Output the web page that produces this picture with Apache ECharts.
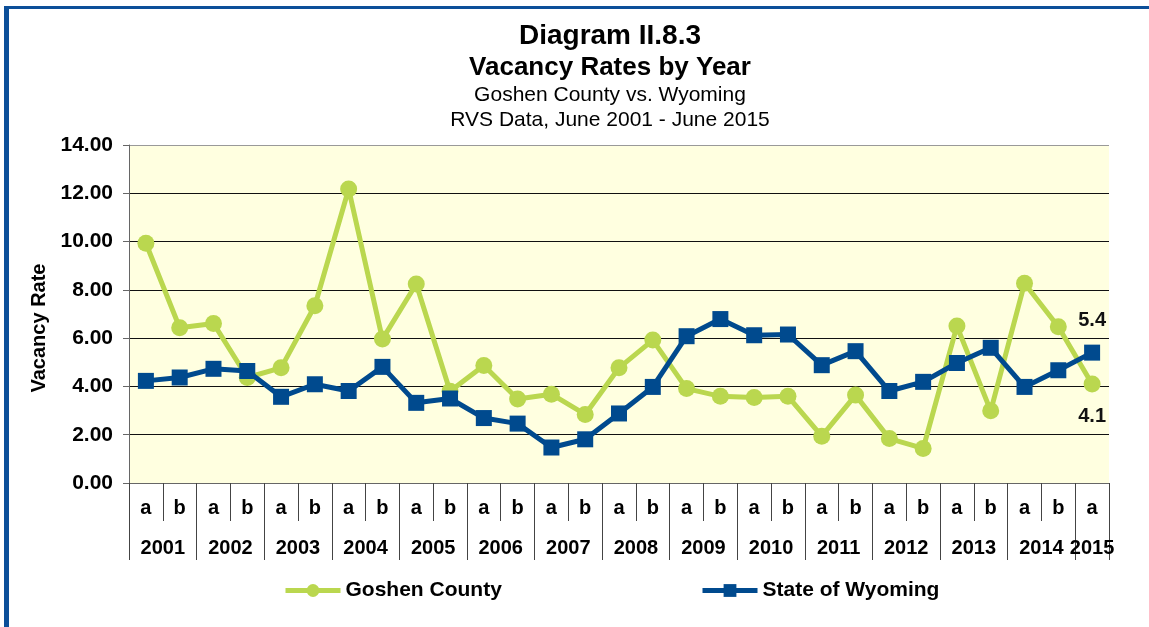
<!DOCTYPE html>
<html>
<head>
<meta charset="utf-8">
<script src="https://cdn.jsdelivr.net/npm/echarts@6/dist/echarts.min.js"></script>
<style>
  html, body { margin: 0; padding: 0; background: #fff; }
  #wrap { position: relative; width: 1149px; height: 627px; overflow: hidden; }
  #chart { position: absolute; left: 0; top: 0; width: 1149px; height: 627px; }
  /* blue frame along the left and top edges of the page */
  #frame { position: absolute; left: 4px; top: 6px; right: -10px; bottom: -10px;
           border-left: 5px solid #0C4F99; border-top: 3px solid #0C4F99; pointer-events: none; }
</style>
</head>
<body>
<div id="wrap">
  <div id="chart"></div>
  <div id="frame"></div>
</div>
<script>
// Half-year survey periods, June 2001 - June 2015
const periods = ['a','b','a','b','a','b','a','b','a','b','a','b','a','b',
                 'a','b','a','b','a','b','a','b','a','b','a','b','a','b','a'];
const years = ['2001','2002','2003','2004','2005','2006','2007','2008',
               '2009','2010','2011','2012','2013','2014','2015'];

// Vacancy rates (%)
const goshenCounty = [9.93, 6.43, 6.61, 4.37, 4.77, 7.34, 12.18, 5.96, 8.24, 3.80,
                      4.87, 3.48, 3.68, 2.84, 4.77, 5.92, 3.91, 3.59, 3.54, 3.59,
                      1.94, 3.64, 1.84, 1.43, 6.50, 2.99, 8.27, 6.47, 4.1];
const stateOfWyoming = [4.23, 4.37, 4.73, 4.64, 3.57, 4.09, 3.81, 4.81, 3.32, 3.50,
                        2.69, 2.46, 1.47, 1.81, 2.88, 3.98, 6.08, 6.79, 6.12, 6.15,
                        4.88, 5.46, 3.81, 4.19, 4.97, 5.60, 3.98, 4.67, 5.4];

const yTicks = [0, 2, 4, 6, 8, 10, 12, 14];

const FONT = '"Liberation Sans", Arial, Helvetica, sans-serif';
const GREEN = '#BAD74F';
const NAVY = '#004A8E';

// Year band: each year spans two periods, the last one only a single period
const yearBounds = years.map((y, i) => i * 2).concat([periods.length]);
const yearCenters = years.map((y, i) => Math.min(i * 2 + 1, (i * 2 + periods.length) / 2));

// Put a value label on the final point only
function withEndLabel(values, position) {
  return values.map((v, i) => i === values.length - 1
    ? { value: v, label: { show: true, position: position, distance: 14,
        formatter: p => p.value.toFixed(1),
        fontFamily: FONT, fontWeight: 'bold', fontSize: 20, color: '#111' } }
    : v);
}

const chart = echarts.init(document.getElementById('chart'), null, { renderer: 'canvas' });

const titleLines = [
  { text: 'Diagram II.8.3', top: 22, size: 28, weight: 'bold' },
  { text: 'Vacancy Rates by Year', top: 55, size: 26, weight: 'bold' },
  { text: 'Goshen County vs. Wyoming', top: 85, size: 21, weight: 'normal' },
  { text: 'RVS Data, June 2001 - June 2015', top: 110, size: 21, weight: 'normal' }
];

const legendBase = {
  top: 580, padding: 0, itemWidth: 55, itemHeight: 16, itemGap: 5,
  lineStyle: { width: 5 },
  textStyle: { fontFamily: FONT, fontSize: 21, fontWeight: 'bold', color: '#000' }
};

chart.setOption({
  animation: false,
  backgroundColor: '#ffffff',
  title: titleLines.map(t => ({
    text: t.text, left: 610, top: t.top, textAlign: 'center', padding: 0,
    textStyle: { fontFamily: FONT, fontSize: t.size, fontWeight: t.weight, color: '#000' }
  })),
  legend: [
    Object.assign({ data: ['Goshen County'], left: 283 }, legendBase),
    Object.assign({ data: ['State of Wyoming'], left: 700 }, legendBase)
  ],
  grid: {
    left: 129, right: 40, top: 145, bottom: 144,
    show: true, backgroundColor: '#FFFFE0', borderWidth: 0
  },
  xAxis: [
    {
      type: 'category', data: periods, position: 'bottom', boundaryGap: true,
      axisLine: { lineStyle: { color: '#666', width: 1 } },
      axisTick: { show: true, interval: 0, length: 38, lineStyle: { color: '#444' } },
      axisLabel: { interval: 0, margin: 15, fontFamily: FONT, fontSize: 20,
                   fontWeight: 'bold', color: '#000' }
    },
    {
      type: 'value', min: 0, max: periods.length, position: 'bottom',
      axisLine: { show: false }, splitLine: { show: false },
      axisTick: { show: true, length: 77, customValues: yearBounds, lineStyle: { color: '#444' } },
      axisLabel: { show: true, margin: 55, customValues: yearCenters,
                   formatter: v => years[yearCenters.indexOf(v)] || '',
                   fontFamily: FONT, fontSize: 20, fontWeight: 'bold', color: '#000' }
    }
  ],
  yAxis: {
    type: 'value', min: 0, max: 14, interval: 2,
    name: 'Vacancy Rate', nameLocation: 'middle', nameGap: 72, nameRotate: 90,
    nameTextStyle: { fontFamily: FONT, fontSize: 20, fontWeight: 'bold', color: '#000',
                     padding: [0, 28, 0, 0] },
    axisLine: { show: true, lineStyle: { color: '#666' } },
    axisTick: { show: true, length: 6, lineStyle: { color: '#666' } },
    axisLabel: { margin: 16, formatter: v => v.toFixed(2), fontFamily: FONT,
                 fontSize: 21, fontWeight: 'bold', color: '#000' },
    splitLine: { show: true, lineStyle: { width: 1,
      color: yTicks.map(v => v === 14 ? '#999' : '#111') } }
  },
  series: [
    {
      name: 'Goshen County', type: 'line', data: withEndLabel(goshenCounty, 'bottom'),
      symbol: 'circle', symbolSize: 17, z: 2,
      lineStyle: { color: GREEN, width: 5 }, itemStyle: { color: GREEN }
    },
    {
      name: 'State of Wyoming', type: 'line', data: withEndLabel(stateOfWyoming, 'top'),
      symbol: 'rect', symbolSize: 16, z: 3,
      lineStyle: { color: NAVY, width: 5 }, itemStyle: { color: NAVY }
    }
  ]
});
</script>
</body>
</html>
